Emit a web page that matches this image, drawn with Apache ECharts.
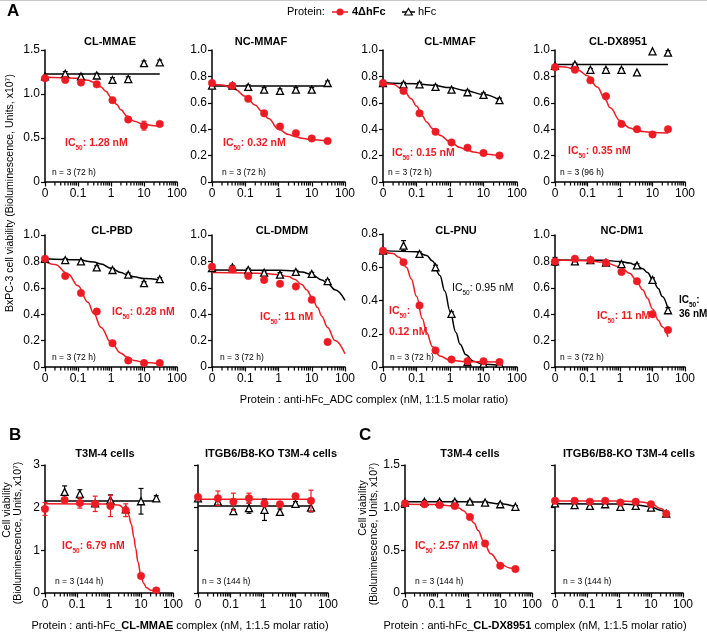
<!DOCTYPE html>
<html lang="en">

<head>
  <meta charset='utf-8'>
  <title>anti-hFc ADC complex cell viability</title>
  <style>
    html, body { margin: 0; padding: 0; background: #fff; }
    #chart { width: 707px; height: 633px; }
  </style>
</head>

<body>
  <div id="chart"></div>
  <script src="https://cdn.jsdelivr.net/npm/echarts@6/dist/echarts.min.js"></script>
  <script type="text/javascript">
    var RED = '#ed1c24';
    var FONT = 'Arial, "Liberation Sans", sans-serif';

    // concentrations (nM); the untreated "0" well is drawn at 0.01 on the log axis
    var conc = [0.01, 0.041, 0.123, 0.37, 1.11, 3.33, 10, 30];
    var xTickLabels = ['0', '0.1', '1', '10', '100'];
    var minorTickVals = [0.02, 0.03, 0.04, 0.05, 0.06, 0.07, 0.08, 0.09,
      0.2, 0.3, 0.4, 0.5, 0.6, 0.7, 0.8, 0.9,
      2, 3, 4, 5, 6, 7, 8, 9,
      20, 30, 40, 50, 60, 70, 80, 90];

    // ---- A: BxPC-3, x10^7 units ----
    // CL-MMAE
    var mmaeRed = [1.18, 1.16, 1.13, 1.11, 0.93, 0.71, 0.64, 0.66];
    var mmaeRedErr = [0, 0, 0, 0, 0, 0, 0.05, 0];
    var mmaeHfc = [1.2, 1.23, 1.2, 1.21, 1.16, 1.17, 1.35, 1.36];
    var mmaeHfcErr = [0, 0.025, 0.025, 0.025, 0.025, 0.025, 0.025, 0.025];
    var mmaeRedFit = [[0.01, 1.19], [0.03, 1.185], [0.1, 1.178], [0.2, 1.157], [0.3, 1.133], [0.5, 1.08], [0.7, 1.03], [1, 0.96], [1.5, 0.88], [2, 0.82], [3, 0.75], [5, 0.69], [10, 0.655], [20, 0.64], [30, 0.635]];
    var mmaeHfcFit = [[0.01, 1.227], [30, 1.227]];

    // NC-MMAF
    var ncMmafRed = [0.75, 0.73, 0.63, 0.52, 0.42, 0.37, 0.33, 0.31];
    var ncMmafHfc = [0.73, 0.73, 0.72, 0.70, 0.69, 0.70, 0.70, 0.75];
    var ncMmafHfcErr = [0, 0, 0.015, 0.015, 0.015, 0.015, 0.015, 0.015];
    var ncMmafRedFit = [[0.01, 0.745], [0.02, 0.735], [0.05, 0.70], [0.1, 0.65], [0.2, 0.583], [0.3, 0.54], [0.5, 0.482], [1, 0.40], [2, 0.36], [3, 0.345], [5, 0.332], [10, 0.32], [30, 0.31]];
    var ncMmafHfcFit = [[0.01, 0.727], [30, 0.727]];

    // CL-MMAF
    var clMmafRed = [0.75, 0.69, 0.52, 0.38, 0.30, 0.26, 0.22, 0.20];
    var clMmafRedErr = [0, 0.015, 0, 0, 0, 0, 0, 0];
    var clMmafHfc = [0.75, 0.74, 0.74, 0.72, 0.70, 0.68, 0.66, 0.62];
    var clMmafHfcErr = [0, 0.015, 0.015, 0.015, 0.015, 0.015, 0.015, 0.015];
    var clMmafRedFit = [[0.01, 0.75], [0.02, 0.74], [0.04, 0.70], [0.07, 0.63], [0.1, 0.575], [0.15, 0.50], [0.2, 0.455], [0.3, 0.405], [0.5, 0.355], [1, 0.305], [2, 0.262], [3, 0.245], [5, 0.228], [10, 0.213], [30, 0.20]];
    var clMmafHfcFit = [[0.01, 0.752], [0.1, 0.745], [0.3, 0.733], [1, 0.715], [3, 0.692], [10, 0.662], [30, 0.62]];

    // CL-DX8951
    var dxRed = [0.87, 0.85, 0.77, 0.65, 0.44, 0.40, 0.36, 0.40];
    var dxHfc = [0.88, 0.89, 0.85, 0.85, 0.85, 0.83, 0.99, 0.98];
    var dxHfcErr = [0, 0.01, 0.01, 0.01, 0.01, 0, 0, 0.015];
    var dxRedFit = [[0.01, 0.876], [0.02, 0.871], [0.05, 0.849], [0.1, 0.805], [0.2, 0.72], [0.35, 0.625], [0.5, 0.562], [1, 0.465], [2, 0.41], [3, 0.394], [5, 0.382], [10, 0.375], [30, 0.371]];
    var dxHfcFit = [[0.01, 0.89], [30, 0.89]];

    // CL-PBD
    var pbdRed = [0.82, 0.69, 0.56, 0.42, 0.18, 0.05, 0.03, 0.03];
    var pbdHfc = [0.82, 0.81, 0.80, 0.755, 0.735, 0.70, 0.635, 0.665];
    var pbdHfcErr = [0, 0.012, 0.012, 0.012, 0.012, 0.012, 0.012, 0.012];
    var pbdRedFit = [[0.01, 0.80], [0.02, 0.776], [0.05, 0.705], [0.1, 0.615], [0.2, 0.49], [0.3, 0.405], [0.5, 0.30], [1, 0.185], [2, 0.105], [3, 0.075], [5, 0.05], [10, 0.035], [30, 0.025]];
    var pbdHfcFit = [[0.01, 0.82], [0.1, 0.812], [0.3, 0.795], [0.5, 0.78], [1, 0.748], [2, 0.715], [3, 0.70], [5, 0.683], [10, 0.67], [30, 0.66]];

    // CL-DMDM
    var dmdmRed = [0.76, 0.74, 0.69, 0.66, 0.63, 0.61, 0.51, 0.19];
    var dmdmRedErr = [0, 0, 0.015, 0.015, 0, 0, 0.015, 0];
    var dmdmHfc = [0.75, 0.755, 0.735, 0.715, 0.70, 0.72, 0.705, 0.65];
    var dmdmHfcErr = [0, 0.012, 0.012, 0.012, 0.015, 0.012, 0.012, 0.012];
    var dmdmRedFit = [[0.01, 0.715], [0.1, 0.713], [0.5, 0.706], [1, 0.70], [2, 0.685], [3, 0.665], [5, 0.625], [7, 0.585], [10, 0.53], [15, 0.45], [20, 0.385], [30, 0.30], [50, 0.20], [100, 0.10]];
    var dmdmHfcFit = [[0.01, 0.735], [1, 0.733], [3, 0.728], [5, 0.72], [10, 0.70], [20, 0.66], [30, 0.635], [50, 0.585], [100, 0.505]];

    // CL-PNU
    var pnuRed = [0.70, 0.63, 0.37, 0.10, 0.045, 0.035, 0.035, 0.03];
    var pnuHfc = [0.70, 0.73, 0.68, 0.60, 0.32, 0.03, 0.02, 0.02];
    var pnuHfcErr = [0, 0.03, 0.012, 0.012, 0.012, 0, 0, 0];
    var pnuRedFit = [[0.01, 0.695], [0.02, 0.682], [0.03, 0.66], [0.05, 0.60], [0.07, 0.53], [0.1, 0.425], [0.15, 0.29], [0.2, 0.207], [0.3, 0.122], [0.5, 0.066], [1, 0.04], [3, 0.031], [30, 0.03]];
    var pnuHfcFit = [[0.01, 0.70], [0.1, 0.693], [0.2, 0.671], [0.3, 0.637], [0.5, 0.55], [0.7, 0.457], [1, 0.337], [1.5, 0.208], [2, 0.137], [3, 0.073], [5, 0.034], [10, 0.016], [30, 0.01]];

    // NC-DM1
    var dm1Red = [0.80, 0.82, 0.81, 0.79, 0.72, 0.65, 0.40, 0.28];
    var dm1Hfc = [0.80, 0.80, 0.81, 0.79, 0.78, 0.77, 0.66, 0.43];
    var dm1HfcErr = [0.03, 0.012, 0.012, 0.012, 0.012, 0.012, 0.015, 0.02];
    var dm1RedFit = [[0.01, 0.81], [0.1, 0.805], [0.3, 0.795], [1, 0.76], [2, 0.71], [3, 0.665], [5, 0.585], [7, 0.52], [10, 0.44], [15, 0.355], [20, 0.305], [30, 0.23]];
    var dm1HfcFit = [[0.01, 0.81], [0.3, 0.808], [1, 0.80], [2, 0.787], [3, 0.773], [5, 0.745], [7, 0.715], [10, 0.665], [15, 0.595], [20, 0.535], [30, 0.44]];

    // ---- B: T3M-4, CL-MMAE complex ----
    var bT3Red = [1.97, 2.18, 2.11, 2.09, 2.04, 1.94, 0.40, 0.06];
    var bT3RedErr = [0.15, 0.05, 0.12, 0.18, 0.25, 0.15, 0.04, 0];
    var bT3Hfc = [null, 2.37, 2.32, 2.10, 2.18, 1.96, 2.15, 2.22];
    var bT3HfcErr = [0, 0.14, 0.1, 0, 0.12, 0, 0.3, 0.06];
    var bT3RedFit = [[0.01, 2.09], [1, 2.085], [2, 2.06], [3.3, 1.96], [4, 1.85], [5, 1.61], [6, 1.3], [6.79, 1.055], [8, 0.734], [10, 0.396], [12, 0.229], [15, 0.122], [20, 0.067], [30, 0.045]];
    var bT3HfcFit = [[0.01, 2.155], [30, 2.155]];

    var bKoRed = [2.25, 2.22, 2.14, 2.22, 2.10, 2.08, 2.27, 2.16];
    var bKoRedErr = [0.03, 0.17, 0.2, 0.12, 0.08, 0.03, 0.05, 0.25];
    var bKoHfc = [2.22, 2.14, 1.92, 1.99, 1.95, 1.90, 2.09, 2.00];
    var bKoHfcErr = [0, 0.05, 0.04, 0.12, 0.25, 0.07, 0.05, 0.1];
    var bKoRedFit = [[0.01, 2.2], [30, 2.2]];
    var bKoHfcFit = [[0.01, 2.04], [30, 2.04]];

    // ---- C: T3M-4, CL-DX8951 complex ----
    var cT3Red = [1.05, 1.04, 1.03, 1.02, 0.89, 0.58, 0.32, 0.28];
    var cT3RedErr = [0.02, 0.02, 0, 0, 0, 0.02, 0, 0];
    var cT3Hfc = [1.06, 1.07, 1.07, 1.07, 1.07, 1.06, 1.04, 1.01];
    var cT3HfcErr = [0.02, 0.015, 0.015, 0.015, 0.015, 0.015, 0.015, 0.015];
    var cT3RedFit = [[0.01, 1.04], [0.1, 1.037], [0.3, 1.02], [0.5, 0.995], [0.7, 0.963], [1, 0.91], [1.5, 0.82], [2, 0.735], [3, 0.605], [5, 0.459], [10, 0.34], [20, 0.293], [30, 0.282]];
    var cT3HfcFit = [[0.01, 1.07], [1, 1.07], [3, 1.065], [10, 1.045], [30, 1.01]];

    var cKoRed = [1.08, 1.08, 1.07, 1.08, 1.06, 1.07, 1.04, 0.93];
    var cKoHfc = [1.05, 1.03, 1.02, 1.04, 1.01, 1.02, 1.00, 0.93];
    var cKoRedFit = [[0.01, 1.078], [1, 1.077], [3, 1.072], [5, 1.065], [10, 1.048], [20, 0.99], [30, 0.93]];
    var cKoHfcFit = [[0.01, 1.045], [1, 1.043], [3, 1.035], [10, 1.01], [20, 0.97], [30, 0.93]];

    // y tick formats
    function fmt1(v) { return v === 0 ? '0' : v.toFixed(1); }
    function fmt0(v) { return String(v); }
    function fmtX(v) { return xTickLabels[Math.round(Math.log10(v)) + 2]; }

    // layout of the twelve plots: [left, top, width, height]
    var panels = [
      { title: 'CL-MMAE', tx: 110, ty: 42, box: [45, 50, 132, 132], yMax: 1.5, yStep: 0.5, yFmt: fmt1, red: mmaeRed, redErr: mmaeRedErr, hfc: mmaeHfc, hfcErr: mmaeHfcErr, redFit: mmaeRedFit, hfcFit: mmaeHfcFit, n: 'n = 3 (72 h)', nx: 52, ny: 173 },
      { title: 'NC-MMAF', tx: 261, ty: 42, box: [212, 50, 133, 132], yMax: 1.0, yStep: 0.2, yFmt: fmt1, red: ncMmafRed, hfc: ncMmafHfc, hfcErr: ncMmafHfcErr, redFit: ncMmafRedFit, hfcFit: ncMmafHfcFit, n: 'n = 3 (72 h)', nx: 222, ny: 173 },
      { title: 'CL-MMAF', tx: 450, ty: 42, box: [383, 50, 134, 132], yMax: 1.0, yStep: 0.2, yFmt: fmt1, red: clMmafRed, redErr: clMmafRedErr, hfc: clMmafHfc, hfcErr: clMmafHfcErr, redFit: clMmafRedFit, hfcFit: clMmafHfcFit, n: 'n = 3 (72 h)', nx: 388, ny: 173 },
      { title: 'CL-DX8951', tx: 618, ty: 42, box: [555, 50, 130, 132], yMax: 1.0, yStep: 0.2, yFmt: fmt1, red: dxRed, hfc: dxHfc, hfcErr: dxHfcErr, redFit: dxRedFit, hfcFit: dxHfcFit, n: 'n = 3 (96 h)', nx: 560, ny: 173 },
      { title: 'CL-PBD', tx: 112, ty: 231, box: [45, 235, 132, 132], yMax: 1.0, yStep: 0.2, yFmt: fmt1, red: pbdRed, hfc: pbdHfc, hfcErr: pbdHfcErr, redFit: pbdRedFit, hfcFit: pbdHfcFit, n: 'n = 3 (72 h)', nx: 52, ny: 358 },
      { title: 'CL-DMDM', tx: 282, ty: 231, box: [212, 235, 133, 132], yMax: 1.0, yStep: 0.2, yFmt: fmt1, red: dmdmRed, redErr: dmdmRedErr, hfc: dmdmHfc, hfcErr: dmdmHfcErr, redFit: dmdmRedFit, hfcFit: dmdmHfcFit, n: 'n = 3 (72 h)', nx: 220, ny: 358 },
      { title: 'CL-PNU', tx: 456, ty: 231, box: [383, 234, 134, 133], yMax: 0.8, yStep: 0.2, yFmt: fmt1, red: pnuRed, hfc: pnuHfc, hfcErr: pnuHfcErr, redFit: pnuRedFit, hfcFit: pnuHfcFit, n: 'n = 3 (72 h)', nx: 390, ny: 358 },
      { title: 'NC-DM1', tx: 622, ty: 231, box: [555, 235, 130, 132], yMax: 1.0, yStep: 0.2, yFmt: fmt1, red: dm1Red, hfc: dm1Hfc, hfcErr: dm1HfcErr, redFit: dm1RedFit, hfcFit: dm1HfcFit, n: 'n = 3 (72 h)', nx: 560, ny: 358 },
      { title: 'T3M-4 cells', tx: 105, ty: 454, box: [45, 465, 128, 128], yMax: 3, yStep: 1, yFmt: fmt0, red: bT3Red, redErr: bT3RedErr, hfc: bT3Hfc, hfcErr: bT3HfcErr, redFit: bT3RedFit, hfcFit: bT3HfcFit, n: 'n = 3 (144 h)', nx: 55, ny: 582 },
      { title: 'ITGB6/B8-KO T3M-4 cells', tx: 271, ty: 454, box: [198, 465, 130, 128], yMax: 3, yStep: 1, yFmt: fmt0, noYLabels: true, red: bKoRed, redErr: bKoRedErr, hfc: bKoHfc, hfcErr: bKoHfcErr, redFit: bKoRedFit, hfcFit: bKoHfcFit, n: 'n = 3 (144 h)', nx: 202, ny: 582 },
      { title: 'T3M-4 cells', tx: 470, ty: 454, box: [405, 465, 127, 128], yMax: 1.5, yStep: 0.5, yFmt: fmt1, red: cT3Red, redErr: cT3RedErr, hfc: cT3Hfc, hfcErr: cT3HfcErr, redFit: cT3RedFit, hfcFit: cT3HfcFit, n: 'n = 3 (144 h)', nx: 415, ny: 582 },
      { title: 'ITGB6/B8-KO T3M-4 cells', tx: 629, ty: 454, box: [555, 465, 128, 128], yMax: 1.5, yStep: 0.5, yFmt: fmt1, noYLabels: true, red: cKoRed, hfc: cKoHfc, redFit: cKoRedFit, hfcFit: cKoHfcFit, n: 'n = 3 (144 h)', nx: 563, ny: 582 }
    ];

    function points(vals) {
      var out = [];
      conc.forEach(function (c, k) { if (vals[k] != null) out.push([c, vals[k]]); });
      return out;
    }
    function errPoints(vals, errs) {
      var out = [];
      if (!errs) return out;
      conc.forEach(function (c, k) { if (vals[k] != null && errs[k] > 0) out.push([c, vals[k], errs[k]]); });
      return out;
    }
    function renderErr(color) {
      return function (params, api) {
        var x = api.value(0), y = api.value(1), e = api.value(2);
        var lo = api.coord([x, y - e]), hi = api.coord([x, y + e]);
        var st = { stroke: color, lineWidth: 1.2 };
        return {
          type: 'group', children: [
            { type: 'line', shape: { x1: lo[0], y1: lo[1], x2: hi[0], y2: hi[1] }, style: st },
            { type: 'line', shape: { x1: lo[0] - 2.5, y1: lo[1], x2: lo[0] + 2.5, y2: lo[1] }, style: st },
            { type: 'line', shape: { x1: hi[0] - 2.5, y1: hi[1], x2: hi[0] + 2.5, y2: hi[1] }, style: st }
          ]
        };
      };
    }

    var grids = [], xAxes = [], yAxes = [], series = [], graphics = [];
    var n = panels.length;

    panels.forEach(function (p, i) {
      grids.push({ left: p.box[0], top: p.box[1], width: p.box[2], height: p.box[3] });
      xAxes.push({
        type: 'log', logBase: 10, gridIndex: i, min: 0.01, max: 100, splitNumber: 4,
        axisLine: { lineStyle: { color: '#000', width: 1.5 } },
        axisTick: { show: true, length: 4.5, lineStyle: { color: '#000', width: 1.2 } },
        axisLabel: { color: '#000', fontSize: 12, fontFamily: FONT, margin: 6, formatter: fmtX, showMinLabel: true, showMaxLabel: true },
        splitLine: { show: false }
      });
      yAxes.push({
        type: 'value', gridIndex: i, min: 0, max: p.yMax, interval: p.yStep,
        axisLine: { show: true, lineStyle: { color: '#000', width: 1.5 } },
        axisTick: { show: true, length: 4, lineStyle: { color: '#000', width: 1.2 } },
        axisLabel: { show: !p.noYLabels, color: '#000', fontSize: 12, fontFamily: FONT, margin: 5, formatter: p.yFmt },
        splitLine: { show: false }
      });
      var ax = { xAxisIndex: i, yAxisIndex: i };
      series.push(Object.assign({ type: 'line', data: p.hfcFit, showSymbol: false, smooth: 0.4, smoothMonotone: 'x', lineStyle: { color: '#000', width: 1.5 }, silent: true, z: 2 }, ax));
      series.push(Object.assign({ type: 'line', data: p.redFit, showSymbol: false, smooth: 0.4, smoothMonotone: 'x', lineStyle: { color: RED, width: 1.5 }, silent: true, z: 3 }, ax));
      series.push(Object.assign({ type: 'custom', data: errPoints(p.hfc, p.hfcErr), renderItem: renderErr('#000'), silent: true, z: 4 }, ax));
      series.push(Object.assign({ type: 'line', data: points(p.hfc), showSymbol: true, showAllSymbol: true, symbol: 'triangle', symbolSize: 7, lineStyle: { opacity: 0, width: 0 }, itemStyle: { color: '#fff', borderColor: '#000', borderWidth: 1.3 }, silent: true, z: 5 }, ax));
      series.push(Object.assign({ type: 'custom', data: errPoints(p.red, p.redErr), renderItem: renderErr(RED), silent: true, z: 6 }, ax));
      series.push(Object.assign({ type: 'line', data: points(p.red), showSymbol: true, showAllSymbol: true, symbol: 'circle', symbolSize: 7.5, lineStyle: { opacity: 0, width: 0 }, itemStyle: { color: RED, borderColor: RED, borderWidth: 0.5 }, silent: true, z: 7 }, ax));

      graphics.push({ type: 'text', x: p.tx, y: p.ty, style: { text: p.title, fill: '#000', font: 'bold 11px ' + FONT, textAlign: 'center', textVerticalAlign: 'middle' } });
      graphics.push({ type: 'text', x: p.nx, y: p.ny, style: { text: p.n, fill: '#000', font: '8.5px ' + FONT, textAlign: 'left', textVerticalAlign: 'middle' } });
    });

    // minor log ticks (2..9 per decade): a thin strip grid hanging under each x axis,
    // sharing its log scale, so the tick marks sit outside the plot like GraphPad's
    panels.forEach(function (p, i) {
      var j = n + i;
      grids.push({ left: p.box[0], top: p.box[1] + p.box[3], width: p.box[2], height: 3.6 });
      xAxes.push({ type: 'log', logBase: 10, gridIndex: j, min: 0.01, max: 100, show: false });
      yAxes.push({ type: 'value', gridIndex: j, min: 0, max: 1, show: false });
      series.push({ type: 'scatter', xAxisIndex: j, yAxisIndex: j, data: minorTickVals.map(function (v) { return [v, 0.5]; }), symbol: 'rect', symbolSize: [1.2, 3.6], itemStyle: { color: '#000', opacity: 1 }, silent: true, z: 20 });
    });

    // IC50 annotations
    function ic50(x, y, rest, color, weight, size) {
      var w = weight || 'bold';
      var fs = size || 10.5;
      return {
        type: 'text', x: x, y: y, z: 100,
        style: {
          text: '{m|IC}{s|50}{m|' + rest + '}', textAlign: 'left', textVerticalAlign: 'middle',
          rich: {
            m: { fill: color, fontSize: fs, fontWeight: w, fontFamily: FONT, verticalAlign: 'bottom', padding: [0, 0, 3, 0] },
            s: { fill: color, fontSize: 6.5, fontWeight: w, fontFamily: FONT, verticalAlign: 'bottom' }
          }
        }
      };
    }
    function txt(x, y, s, font, color, align) {
      return { type: 'text', x: x, y: y, z: 100, style: { text: s, fill: color || '#000', font: font, textAlign: align || 'left', textVerticalAlign: 'middle' } };
    }
    graphics.push(ic50(65, 145, ': 1.28 nM', RED));
    graphics.push(ic50(223, 145, ': 0.32 nM', RED));
    graphics.push(ic50(392, 155, ': 0.15 nM', RED));
    graphics.push(ic50(568, 153, ': 0.35 nM', RED));
    graphics.push(ic50(112, 314, ': 0.28 nM', RED));
    graphics.push(ic50(260, 319, ': 11 nM', RED));
    graphics.push(ic50(452, 290, ': 0.95 nM', '#000', 'normal'));
    graphics.push(ic50(389, 313, ':', RED));
    graphics.push(txt(389, 332, '0.12 nM', 'bold 10.5px ' + FONT, RED));
    graphics.push(ic50(597, 318, ': 11 nM', RED));
    graphics.push(ic50(679, 302, ':', '#000', 'bold', 10));
    graphics.push(txt(679, 314, '36 nM', 'bold 10px ' + FONT, '#000'));
    graphics.push(ic50(62, 548, ': 6.79 nM', RED));
    graphics.push(ic50(415, 548, ': 2.57 nM', RED));

    // panel letters, axis titles
    graphics.push({ type: 'line', shape: { x1: 0, y1: 0.5, x2: 707, y2: 0.5 }, style: { stroke: '#c8c8c8', lineWidth: 1 } });
    graphics.push(txt(7, 11, 'A', 'bold 17px ' + FONT));
    graphics.push(txt(9, 435, 'B', 'bold 17px ' + FONT));
    graphics.push(txt(359, 435, 'C', 'bold 17px ' + FONT));
    graphics.push(txt(374, 400, 'Protein : anti-hFc_ADC complex (nM, 1:1.5 molar ratio)', '11px ' + FONT, '#000', 'center'));
    graphics.push({ type: 'text', x: 10, y: 193, rotation: Math.PI / 2, style: { text: 'BxPC-3 cell viability (Bioluminescence, Units, x10⁷)', fill: '#000', font: '10.5px ' + FONT, textAlign: 'center', textVerticalAlign: 'middle' } });

    function complexTitle(x, y, drug) {
      return {
        type: 'text', x: x, y: y,
        style: {
          text: '{n|Protein : anti-hFc_}{b|' + drug + '}{n| complex (nM, 1:1.5 molar ratio)}', textAlign: 'center', textVerticalAlign: 'middle',
          rich: { n: { fill: '#000', fontSize: 11, fontFamily: FONT }, b: { fill: '#000', fontSize: 11, fontWeight: 'bold', fontFamily: FONT } }
        }
      };
    }
    graphics.push(complexTitle(180, 626, 'CL-MMAE'));
    graphics.push(complexTitle(535, 626, 'CL-DX8951'));
    [[7, 510, 'Cell viability'], [18, 533, '(Bioluminescence, Units, x10⁷)'], [363, 508, 'Cell viability'], [374, 534, '(Bioluminescence, Units, x10⁷)']].forEach(function (t) {
      graphics.push({ type: 'text', x: t[0], y: t[1], rotation: Math.PI / 2, style: { text: t[2], fill: '#000', font: '10.5px ' + FONT, textAlign: 'center', textVerticalAlign: 'middle' } });
    });

    // legend
    graphics.push(txt(287, 12, 'Protein:', '11px ' + FONT));
    graphics.push({ type: 'line', shape: { x1: 332, y1: 12, x2: 348, y2: 12 }, style: { stroke: RED, lineWidth: 1.5 } });
    graphics.push({ type: 'circle', shape: { cx: 340, cy: 12, r: 3.5 }, style: { fill: RED } });
    graphics.push(txt(352, 12, '4ΔhFc', 'bold 11px ' + FONT));
    graphics.push({ type: 'line', shape: { x1: 402, y1: 12, x2: 415, y2: 12 }, style: { stroke: '#000', lineWidth: 1.5 } });
    graphics.push({ type: 'polygon', shape: { points: [[408.5, 8.5], [412.3, 15], [404.7, 15]] }, style: { fill: '#fff', stroke: '#000', lineWidth: 1.2 } });
    graphics.push(txt(418, 12, 'hFc', '11px ' + FONT));

    var myChart = echarts.init(document.getElementById('chart'));
    myChart.setOption({
      animation: false,
      backgroundColor: '#fff',
      grid: grids,
      xAxis: xAxes,
      yAxis: yAxes,
      series: series,
      graphic: graphics
    });
  </script>
</body>

</html>
